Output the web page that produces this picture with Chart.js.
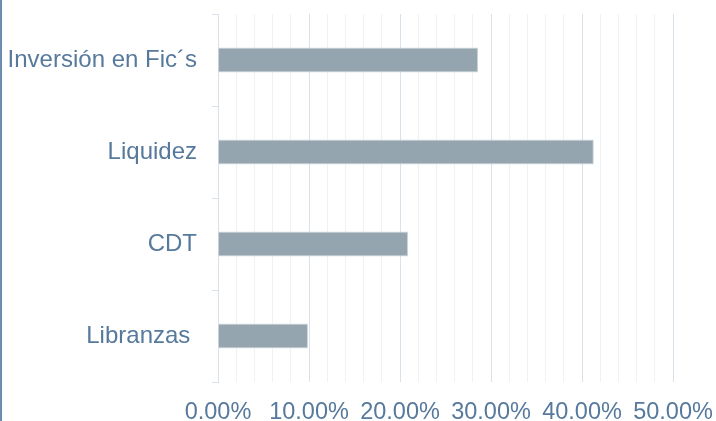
<!DOCTYPE html>
<html>
<head>
<meta charset="utf-8">
<script src="https://cdn.jsdelivr.net/npm/chart.js@4"></script>
<style>
  html, body { margin: 0; padding: 0; background: #fff; }
  #wrap { width: 714px; height: 421px; border-left: 2px solid #6a8db0; }
</style>
</head>
<body>
<div id="wrap"><canvas id="barChart" width="714" height="421"></canvas></div>
<script>
const categories = ['Inversión en Fic´s', 'Liquidez', 'CDT', 'Libranzas '];
const values = [28.6, 41.3, 20.9, 9.9];
const tickMin = 0;
const tickMax = 50;
const tickStep = 2;

const text_color = '#56799c';
const bar_color = '#94a5b0';
const bar_border = '#d0d8de';
const major_grid = '#d9e2eb';
const minor_grid = '#eef2f6';

new Chart(document.getElementById('barChart'), {
  type: 'bar',
  data: {
    labels: categories,
    datasets: [{
      data: values,
      backgroundColor: bar_color,
      borderColor: bar_border,
      borderWidth: 1,
      categoryPercentage: 1,
      barPercentage: 0.27
    }]
  },
  options: {
    indexAxis: 'y',
    responsive: false,
    animation: false,
    layout: { padding: { top: 14, right: 43, left: 0, bottom: 0 } },
    plugins: {
      legend: { display: false },
      tooltip: { enabled: false }
    },
    scales: {
      x: {
        min: tickMin,
        max: tickMax,
        border: { display: false },
        grid: {
          drawTicks: false,
          color: (ctx) => (ctx.tick && ctx.tick.value % 10 === 0) ? major_grid : minor_grid
        },
        ticks: {
          stepSize: tickStep,
          autoSkip: false,
          maxRotation: 0,
          padding: 16,
          color: text_color,
          font: { family: 'Liberation Sans', size: 23.5 },
          callback: (v) => v % 10 === 0 ? v.toFixed(2) + '%' : ''
        },
        afterFit: (scale) => {
          scale.height = 39;
          scale.paddingLeft = 0;
          scale.paddingRight = 0;
        }
      },
      y: {
        border: { display: true, color: major_grid },
        grid: {
          drawOnChartArea: false,
          drawTicks: true,
          tickLength: 6,
          color: major_grid
        },
        ticks: {
          padding: 15,
          color: text_color,
          font: { family: 'Liberation Sans', size: 24 }
        },
        afterFit: (scale) => {
          scale.width = 216;
          scale.paddingTop = 0;
          scale.paddingBottom = 0;
        }
      }
    }
  }
});
</script>
</body>
</html>
